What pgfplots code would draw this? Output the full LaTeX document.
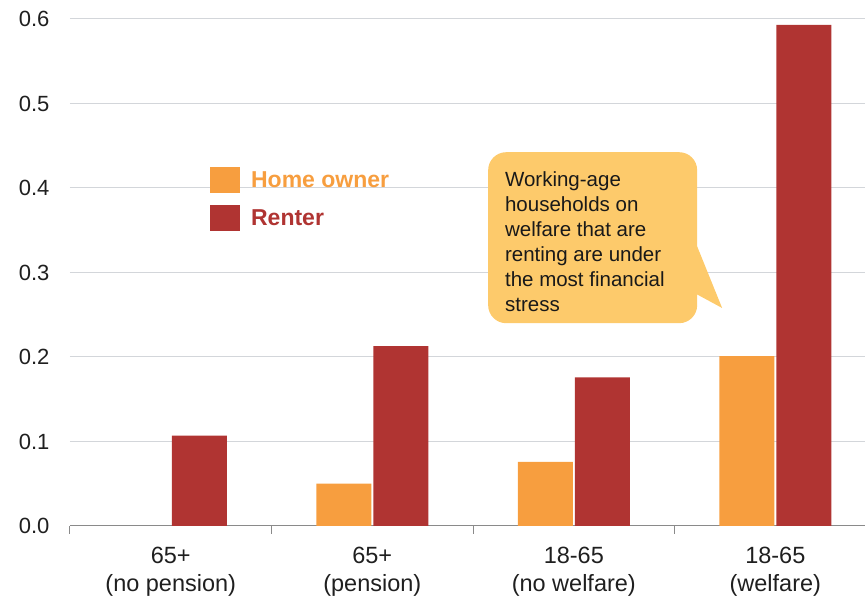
\documentclass[border=0pt]{standalone}
\usepackage{pgfplots}
\pgfplotsset{compat=1.18}
\usepackage{fontspec}
\setmainfont{Liberation Sans}
\definecolor{owner}{HTML}{F79E3F}
\definecolor{renter}{HTML}{B03432}
\definecolor{bubble}{HTML}{FDCA6B}
\definecolor{gridc}{HTML}{D3D6DA}
\definecolor{axisc}{HTML}{8A8A8A}
\begin{document}
\begin{tikzpicture}
\begin{axis}[
  scale only axis,
  width=795pt, height=507pt,
  ymin=0, ymax=0.6,
  xmin=-0.5, xmax=3.445,
  ybar=2pt, bar width=55pt,
  axis lines*=left,
  y axis line style={draw=none},
  x axis line style={axisc, line width=1pt},
  ytick={0,0.1,...,0.6},
  ymajorgrids,
  grid style={gridc, line width=1pt},
  major tick length=0pt,
  yticklabel style={font=\fontsize{22}{26}\selectfont, text=black!88, xshift=-17pt},
  /pgf/number format/.cd, fixed, fixed zerofill, precision=1, assume math mode=true,
  /pgfplots/.cd,
  xtick={0,1,2,3},
  xticklabels={{65+\\(no pension)},{65+\\(pension)},{18-65\\(no welfare)},{18-65\\(welfare)}},
  xticklabel style={font=\fontsize{23.5}{28}\selectfont, align=center, text=black!88, yshift=-18pt},
  minor xtick={-0.5,0.5,1.5,2.5},
  minor tick length=8pt,
  tick align=outside,
  minor tick style={axisc, line width=1pt},
  legend style={at={(0.176,0.708)}, anchor=north west, draw=none, fill=none,
    font=\fontsize{23}{26}\selectfont\bfseries, row sep=12pt, column sep=9pt, inner sep=0pt},
  legend cell align=left,
  legend image code/.code={\fill[#1] (0pt,-13pt) rectangle (30pt,13pt);},
  clip=false,
]
\addplot[fill=owner, draw=none] coordinates {(1,0.050) (2,0.076) (3,0.201)};
\addlegendentry{\textcolor{owner}{Home owner}}
\addplot[fill=renter, draw=none] coordinates {(0,0.107) (1,0.213) (2,0.176) (3,0.593)};
\addlegendentry{\textcolor{renter}{Renter}}
% callout tail and box
\fill[bubble] (axis cs:2.612,0.331) -- (axis cs:2.736,0.258) -- (axis cs:2.612,0.274) -- cycle;
\node[fill=bubble, rounded corners=18pt, anchor=north west, minimum width=209pt,
  minimum height=171pt, inner sep=0pt] at (axis cs:1.574,0.4426) {};
\node[anchor=north west, align=left, inner sep=0pt,
  font=\fontsize{20.5}{25}\selectfont, text=black!90] at (axis cs:1.658,0.419)
  {Working-age\\households on\\welfare that are\\renting are under\\the most financial\\stress};
\end{axis}
\pgfresetboundingbox
\path ([xshift=-70pt,yshift=-72pt]current axis.south west) rectangle ([yshift=19pt]current axis.north east);
\end{tikzpicture}
\end{document}
